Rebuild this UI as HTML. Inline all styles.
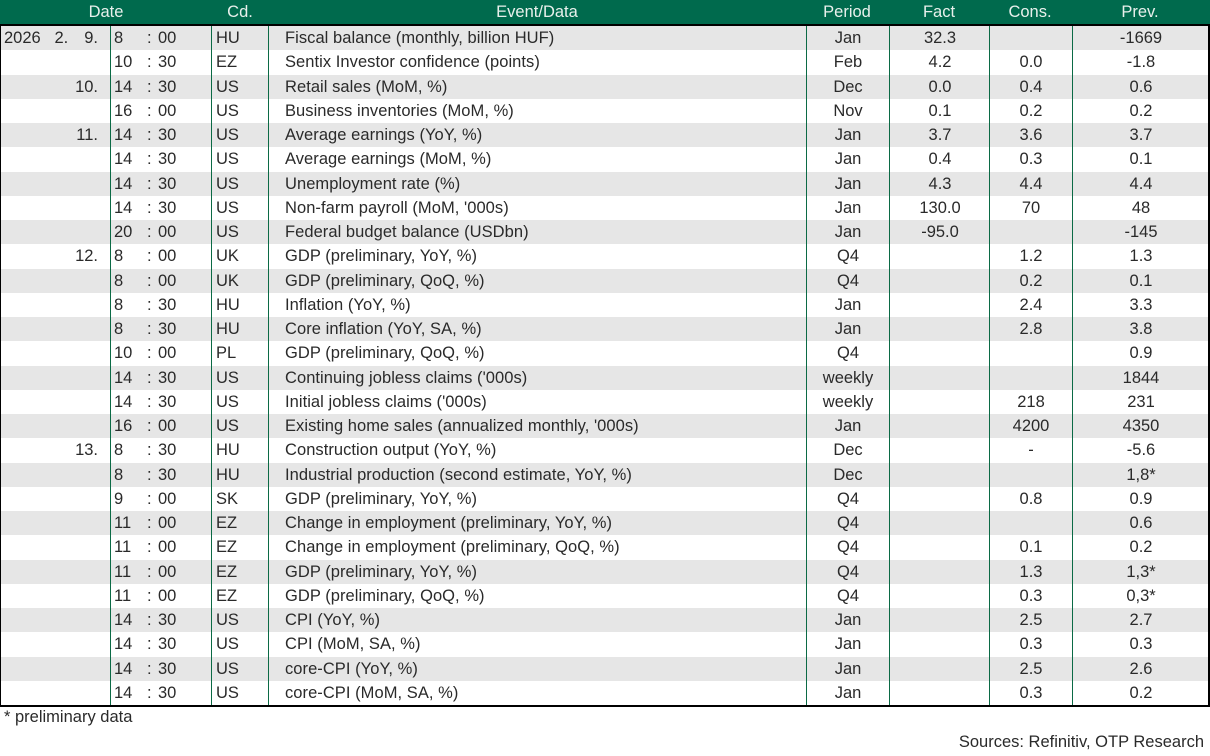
<!DOCTYPE html>
<html><head><meta charset="utf-8"><style>
body{margin:0;width:1210px;height:756px;background:#fff;font-family:"Liberation Sans",sans-serif;color:#2a2a2a;font-size:16.5px;position:relative;overflow:hidden}
.hdr{position:absolute;left:0;top:0;width:1210px;height:24px;background:#006a4d;border-bottom:2px solid #000}
.hdr span{position:absolute;top:3px;color:#e8f0ec;font-size:16.5px;transform:translateX(-50%)}
.tbl{position:absolute;left:0;top:26px;width:1207px;border-left:1px solid #000;border-right:2px solid #000;border-bottom:2px solid #000}
.r{position:relative;height:24.25px;line-height:25px;white-space:nowrap}
.r:nth-child(even){background:#e6e6e6}
.r span{position:absolute}
.c{transform:translateX(-50%)}
.v{position:absolute;top:0;width:1px;height:679px;background:#0b6a45;z-index:2}
.foot{position:absolute;font-size:16.5px}
</style></head><body>
<div class="hdr">
<span style="left:106px">Date</span><span style="left:240px">Cd.</span><span style="left:537px">Event/Data</span><span style="left:847px">Period</span><span style="left:939px">Fact</span><span style="left:1030px">Cons.</span><span style="left:1140px">Prev.</span>
</div>
<div class="tbl">
<div class="v" style="left:109px"></div><div class="v" style="left:210px"></div><div class="v" style="left:267px"></div><div class="v" style="left:805px"></div><div class="v" style="left:888px"></div><div class="v" style="left:988px"></div><div class="v" style="left:1071px"></div>
<div id="rows"></div>
</div>
<div class="foot" style="left:4px;top:708px">* preliminary data</div>
<div class="foot" style="right:6px;top:733px">Sources: Refinitiv, OTP Research</div>
<script>
const d=[
["2026 &nbsp; 2.","9.","8","00","HU","Fiscal balance (monthly, billion HUF)","Jan","32.3","","-1669"],
["","","10","30","EZ","Sentix Investor confidence (points)","Feb","4.2","0.0","-1.8"],
["","10.","14","30","US","Retail sales (MoM, %)","Dec","0.0","0.4","0.6"],
["","","16","00","US","Business inventories (MoM, %)","Nov","0.1","0.2","0.2"],
["","11.","14","30","US","Average earnings (YoY, %)","Jan","3.7","3.6","3.7"],
["","","14","30","US","Average earnings (MoM, %)","Jan","0.4","0.3","0.1"],
["","","14","30","US","Unemployment rate (%)","Jan","4.3","4.4","4.4"],
["","","14","30","US","Non-farm payroll (MoM, '000s)","Jan","130.0","70","48"],
["","","20","00","US","Federal budget balance (USDbn)","Jan","-95.0","","-145"],
["","12.","8","00","UK","GDP (preliminary, YoY, %)","Q4","","1.2","1.3"],
["","","8","00","UK","GDP (preliminary, QoQ, %)","Q4","","0.2","0.1"],
["","","8","30","HU","Inflation (YoY, %)","Jan","","2.4","3.3"],
["","","8","30","HU","Core inflation (YoY, SA, %)","Jan","","2.8","3.8"],
["","","10","00","PL","GDP (preliminary, QoQ, %)","Q4","","","0.9"],
["","","14","30","US","Continuing jobless claims ('000s)","weekly","","","1844"],
["","","14","30","US","Initial jobless claims ('000s)","weekly","","218","231"],
["","","16","00","US","Existing home sales (annualized monthly, '000s)","Jan","","4200","4350"],
["","13.","8","30","HU","Construction output (YoY, %)","Dec","","-","-5.6"],
["","","8","30","HU","Industrial production (second estimate, YoY, %)","Dec","","","1,8*"],
["","","9","00","SK","GDP (preliminary, YoY, %)","Q4","","0.8","0.9"],
["","","11","00","EZ","Change in employment (preliminary, YoY, %)","Q4","","","0.6"],
["","","11","00","EZ","Change in employment (preliminary, QoQ, %)","Q4","","0.1","0.2"],
["","","11","00","EZ","GDP (preliminary, YoY, %)","Q4","","1.3","1,3*"],
["","","11","00","EZ","GDP (preliminary, QoQ, %)","Q4","","0.3","0,3*"],
["","","14","30","US","CPI (YoY, %)","Jan","","2.5","2.7"],
["","","14","30","US","CPI (MoM, SA, %)","Jan","","0.3","0.3"],
["","","14","30","US","core-CPI (YoY, %)","Jan","","2.5","2.6"],
["","","14","30","US","core-CPI (MoM, SA, %)","Jan","","0.3","0.2"]];
let h="";
for(const r of d){h+=`<div class="r"><span style="left:3px">${r[0]}</span><span style="right:1110px">${r[1]}</span><span style="left:113px">${r[2]}</span><span style="left:146px">:</span><span style="left:157px">${r[3]}</span><span style="left:215px">${r[4]}</span><span style="left:284px;letter-spacing:0.05px">${r[5]}</span><span class="c" style="left:847px">${r[6]}</span><span class="c" style="left:939px">${r[7]}</span><span class="c" style="left:1030px">${r[8]}</span><span class="c" style="left:1140px">${r[9]}</span></div>`;}
document.getElementById("rows").outerHTML=h;
</script>
</body></html>
